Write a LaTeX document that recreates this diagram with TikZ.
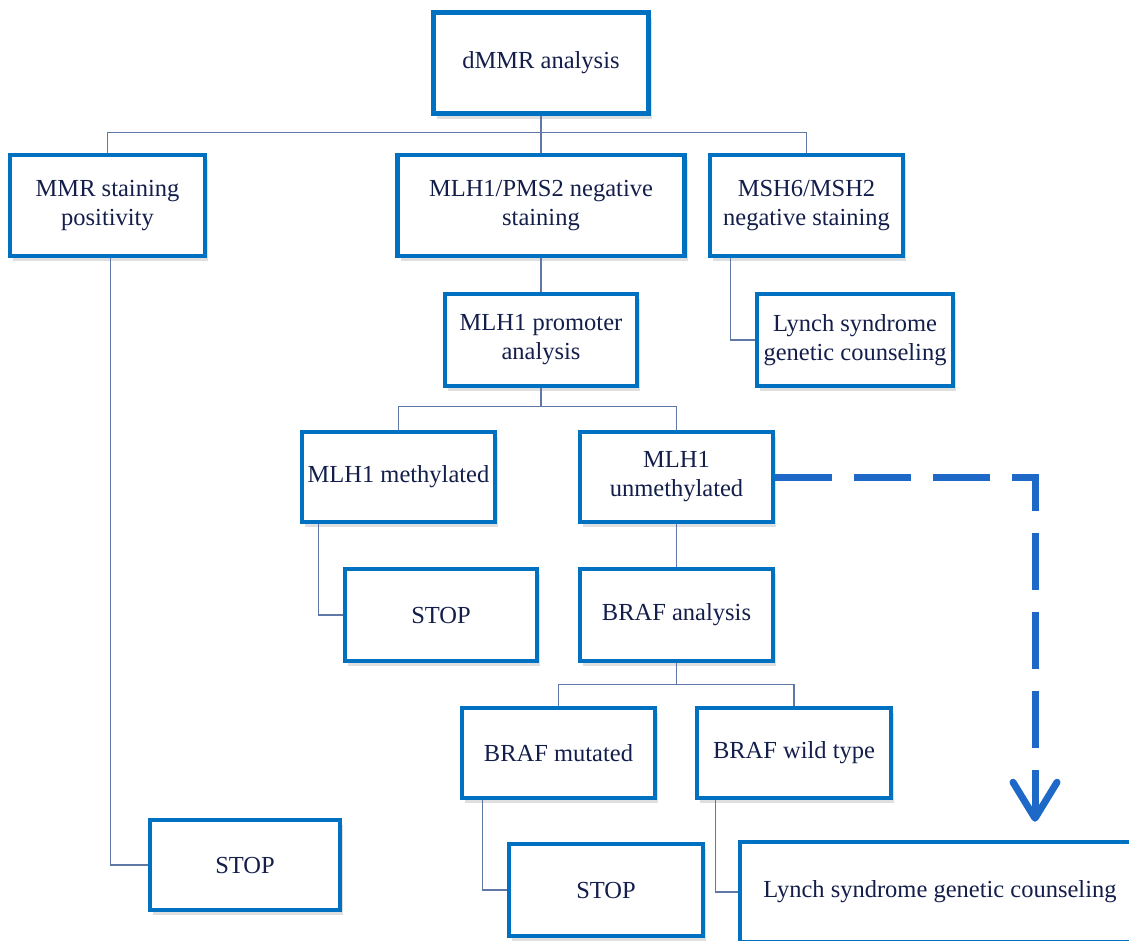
\documentclass[tikz,border=0pt]{standalone}
\usepackage{fontspec}
\setmainfont{Liberation Serif}
\usetikzlibrary{positioning, arrows.meta, shadows}
\definecolor{bxBlue}{RGB}{0, 112, 192}
\definecolor{bxText}{RGB}{20, 30, 75}
\definecolor{bxLine}{RGB}{95, 120, 165}
\definecolor{bxDash}{RGB}{30, 105, 200}
\tikzset{
    box/.style={
        rectangle,
        draw=bxBlue,
        line width=4.5pt,
        fill=white,
        text=bxText,
        align=center,
        font=\fontsize{24.5}{29}\selectfont,
        inner sep=2pt,
        drop shadow={opacity=0.25, shadow xshift=3pt, shadow yshift=-5pt}
    },
    link/.style={
        draw=bxLine,
        line width=1.3pt
    },
    dashlink/.style={
        draw=bxDash,
        line width=7pt,
        dash pattern=on 57pt off 22pt,
        -{Straight Barb[length=36pt, width=44pt, round]},
        shorten >=18pt
    }
}

\begin{document}
\begin{tikzpicture}[x=1pt, y=-1pt]
  \useasboundingbox (0,0) rectangle (1129,940);
  \clip (0,0) rectangle (1129,940);

  % Top level
  \node[box, minimum width=215pt, minimum height=101pt] (dmmr) at (541,63) {dMMR analysis};

  % Staining results
  \node[box, minimum width=195pt, minimum height=101pt] (mmrpos) at (107.5,205.5) {MMR staining\\positivity};
  \node[box, minimum width=287pt, minimum height=101pt] (mlhneg) at (541,205.5) {MLH1/PMS2 negative\\staining};
  \node[box, minimum width=193pt, minimum height=101pt] (msh) at (806.5,205.5) {MSH6/MSH2\\negative staining};

  % Second level
  \node[box, minimum width=196pt, minimum height=92pt] (lynchA) at (855,340) {Lynch syndrome\\genetic counseling};
  \node[box, minimum width=192pt, minimum height=92pt] (promoter) at (541,340) {MLH1 promoter\\analysis};

  % Methylation
  \node[box, minimum width=193pt, minimum height=90pt] (meth) at (398.5,477) {MLH1 methylated};
  \node[box, minimum width=193pt, minimum height=90pt] (unmeth) at (676.5,477) {MLH1\\unmethylated};
  \node[box, minimum width=192pt, minimum height=92pt] (stopA) at (441,615) {STOP};
  \node[box, minimum width=193pt, minimum height=92pt] (braf) at (676.5,615) {BRAF analysis};

  % BRAF results
  \node[box, minimum width=193pt, minimum height=90pt] (mut) at (558.5,753) {BRAF mutated};
  \node[box, minimum width=194pt, minimum height=90pt] (wild) at (794,753) {BRAF wild type};

  % Outcomes
  \node[box, minimum width=190pt, minimum height=90pt] (stopB) at (245,865) {STOP};
  \node[box, minimum width=194pt, minimum height=92pt] (stopC) at (606,890) {STOP};
  \node[box, minimum width=400pt, minimum height=100pt] (lynchB) at (940,892) {Lynch syndrome genetic counseling};

  % Tree connections
  \draw[link] (dmmr.south) -- ++(0,17) coordinate (busA);
  \draw[link] (busA) -| (mmrpos.north);
  \draw[link] (busA) -| (mlhneg.north);
  \draw[link] (busA) -| (msh.north);
  \draw[link] (mlhneg.south) -- (promoter.north);
  \draw[link] (promoter.south) -- ++(0,18) coordinate (busB);
  \draw[link] (busB) -| (meth.north);
  \draw[link] (busB) -| (unmeth.north);
  \draw[link] (unmeth.south) -- (braf.north);
  \draw[link] (braf.south) -- ++(0,21) coordinate (busC);
  \draw[link] (busC) -| (mut.north);
  \draw[link] (busC) -| (wild.north);

  % Elbow connections
  \draw[link] ([xshift=3pt]mmrpos.south) |- (stopB.west);
  \draw[link] ([xshift=23pt]msh.south west) |- (lynchA.west);
  \draw[link] ([xshift=19pt]meth.south west) |- (stopA.west);
  \draw[link] ([xshift=23pt]mut.south west) |- (stopC.west);
  \draw[link] ([xshift=21pt]wild.south west) |- (lynchB.west);

  % Dashed shortcut
  \draw[dashlink] (unmeth.east) -| ([xshift=95pt]lynchB.north);
\end{tikzpicture}
\end{document}
